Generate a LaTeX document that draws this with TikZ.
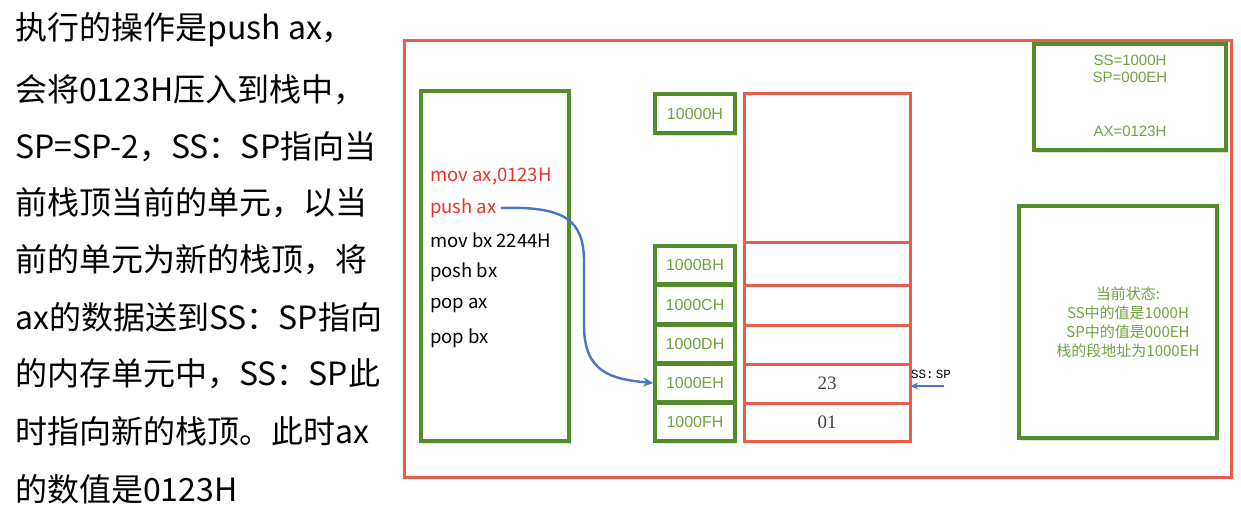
\documentclass[tikz,border=0pt]{standalone}
\usepackage{fontspec}
\setmainfont{Noto Sans CJK SC}
\newfontfamily\cjk{Noto Sans CJK SC}
\newfontfamily\arialf{Liberation Sans}
\newfontfamily\timesf{Liberation Serif}
\newfontfamily\monof{Liberation Mono}
\usetikzlibrary{arrows.meta,shadows}
\definecolor{fred}{RGB}{236,92,72}
\definecolor{fgreen}{RGB}{84,140,44}
\definecolor{tgreen}{RGB}{112,164,64}
\definecolor{cred}{RGB}{232,52,40}
\definecolor{fblue}{RGB}{72,118,200}
\tikzset{
  gbox/.style={draw=fgreen, fill=white, line width=3.5pt, inner sep=0pt,
    drop shadow={opacity=0.25, shadow xshift=1.5pt, shadow yshift=-2.5pt}},
  rbox/.style={draw=fred, line width=3pt},
  para/.style={anchor=west, inner sep=0pt, font=\cjk\fontsize{32}{32}\selectfont},
  code/.style={anchor=west, inner sep=0pt, font=\cjk\fontsize{18.5}{18.5}\selectfont},
  addr/.style={gbox, minimum width=80pt, font=\arialf\fontsize{16}{16}\selectfont, text=tgreen},
  cell/.style={minimum width=166pt, inner sep=0pt, font=\timesf\fontsize{19}{19}\selectfont, text=black!75},
  info/.style={align=center, inner sep=0pt, text=tgreen, font=\arialf\fontsize{15}{17}\selectfont},
  barrow/.style={draw=fblue, line width=2.4pt, -{Stealth[length=10pt,width=9pt]}}
}
\begin{document}
\begin{tikzpicture}[x=1pt,y=-1pt]
\useasboundingbox (0,0) rectangle (1241,512);
% left paragraph
\node[para] (p1) at (15,30) {执行的操作是push ax，};
\node[para] (p2) at (15,90) {会将0123H压入到栈中，};
\node[para] (p3) at (15,147) {SP=SP-2，SS：SP指向当};
\node[para] (p4) at (15,203) {前栈顶当前的单元，以当};
\node[para] (p5) at (15,260) {前的单元为新的栈顶，将};
\node[para] (p6) at (15,317) {ax的数据送到SS：SP指向};
\node[para] (p7) at (15,374) {的内存单元中，SS：SP此};
\node[para] (p8) at (15,431) {时指向新的栈顶。此时ax};
\node[para] (p9) at (15,489) {的数值是0123H};
% outer frame
\node[rbox, minimum width=827pt, minimum height=437pt] (frame) at (817.5,258.5) {};
% code box
\node[gbox, minimum width=148pt, minimum height=350pt] (codebox) at (495,266) {};
\node[code, text=cred] (c1) at (430,176) {mov ax,0123H};
\node[code, text=cred] (c2) at (430,208) {push ax};
\node[code] (c3) at (430,240) {mov bx 2244H};
\node[code] (c4) at (430,272) {posh bx};
\node[code] (c5) at (430,305) {pop ax};
\node[code] (c6) at (430,338) {pop bx};
% address boxes
\node[addr, minimum height=39pt] (a0) at (695,113.5) {10000H};
\node[addr, minimum height=38pt] (aB) at (695,265) {1000BH};
\node[addr, minimum height=38pt] (aC) at (695,304.5) {1000CH};
\node[addr, minimum height=38pt] (aD) at (695,344) {1000DH};
\node[addr, minimum height=38pt] (aE) at (695,383) {1000EH};
\node[addr, minimum height=38pt] (aF) at (695,422) {1000FH};
% stack
\node[rbox, minimum width=166pt, minimum height=348pt] (stack) at (827,267) {};
\foreach \yy in {242,285,325,364,403} \draw[fred, line width=3pt] (stack.west |- 0,\yy) -- (stack.east |- 0,\yy);
\node[cell, minimum height=39pt] (sE) at (827,383) {23};
\node[cell, minimum height=38pt] (sF) at (827,422) {01};
% SS:SP pointer
\node[anchor=west, inner sep=0pt, font=\monof\fontsize{12.5}{12.5}\selectfont] (sslabel) at (911,374) {SS:\,SP};
\coordinate (ssstart) at (944,386);
\draw[barrow, line width=2pt, -{Stealth[length=8pt,width=7pt]}] (ssstart) -- (sE.east |- ssstart);
% curved arrow
\draw[barrow] ([xshift=4pt]c2.east) .. controls (565,206) and (584,220) .. (584,262)
  -- (584,325) .. controls (584,372) and (610,379) .. (aE.west);
% right info boxes
\node[gbox, minimum width=192pt, minimum height=106pt] (reg) at (1130,97) {};
\node[info] (r1) at (1130,68.5) {SS=1000H\\SP=000EH};
\node[info] (r2) at (1130,131) {AX=0123H};
\node[gbox, minimum width=198pt, minimum height=232pt] (state) at (1118,322) {};
\node[info, font=\cjk\fontsize{15}{19}\selectfont] (st) at (1128,322) {当前状态:\\SS中的值是1000H\\SP中的值是000EH\\栈的段地址为1000EH};
\end{tikzpicture}
\end{document}
